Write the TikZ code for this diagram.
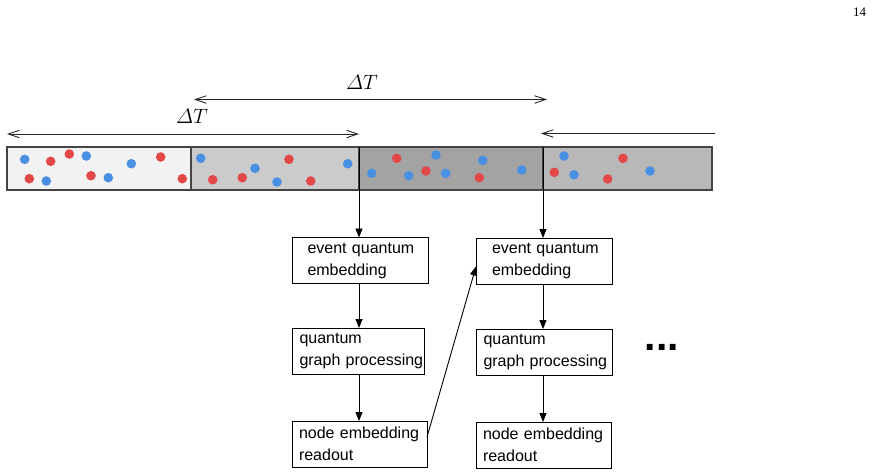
\documentclass[tikz,border=0pt]{standalone}
\usepackage{amsmath}
\usepackage{fontspec}
\setmainfont{Liberation Sans}
\newfontfamily\serifnum{Liberation Serif}
\usetikzlibrary{arrows.meta}
\definecolor{segA}{HTML}{F2F2F2}
\definecolor{segB}{HTML}{CBCBCB}
\definecolor{segC}{HTML}{A3A3A3}
\definecolor{segD}{HTML}{B8B8B8}
\definecolor{dotred}{HTML}{E24848}
\definecolor{dotblue}{HTML}{4A90E2}
\definecolor{barline}{HTML}{444444}
\hbadness=10000 \hfuzz=100pt
\begin{document}
\begin{tikzpicture}[x=1pt,y=-1pt,
  seg/.style={draw=barline,line width=1.1pt,anchor=north west,minimum height=43pt,inner sep=0pt,outer sep=0pt},
  procbox/.style={draw,line width=0.9pt,anchor=north west,minimum height=46pt,outer sep=0pt,inner ysep=0pt,align=left,
    font=\fontsize{16pt}{22pt}\selectfont},
  flow/.style={line width=0.9pt,-{Triangle[length=9pt,width=7pt]}},
  span/.style={line width=0.9pt,draw=black!85,{Straight Barb[length=11pt,width=7.5pt]}-{Straight Barb[length=11pt,width=7.5pt]}},
  spanl/.style={line width=0.9pt,draw=black!85,{Straight Barb[length=11pt,width=7.5pt]}-},
  rdot/.style={fill=dotred,draw=none},
  bdot/.style={fill=dotblue,draw=none},
  dlabel/.style={font=\fontsize{21pt}{24pt}\selectfont}
]
\useasboundingbox (0,0) rectangle (875,475);

% page number
\node[font=\serifnum\fontsize{13pt}{15pt}\selectfont] (pg) at (859.7,12) {14};

% bar segments
\node[seg,fill=segA,minimum width=184pt] (s1) at (7,147) {};
\node[seg,fill=segB,minimum width=168pt] (s2) at (191,147) {};
\node[seg,fill=segC,minimum width=184pt] (s3) at (359,147) {};
\node[seg,fill=segD,minimum width=169pt] (s4) at (543,147) {};
\draw[line width=1pt,black] (s3.north west) -- (s3.south west);
\draw[line width=1pt,black] (s4.north west) -- (s4.south west);

% dots
\foreach \x/\y in {24.7/159.3,86.3/156,131.3/163.7,46.3/181,108.3/177.7,
  200.7/158.3,255/168.3,347.7/163.7,277/182,
  371.7/173.3,408.7/175.7,436/155,445.7/173.3,482.7/160.3,521.7/170,
  564/156,574/174.7,650/171}
  \fill[bdot] (\x,\y) circle (4.8);
\foreach \x/\y in {50.7/161.3,69.3/154,160.7/157,29.3/178.7,91/175.7,182.3/178.7,
  289/159.3,212.7/179.7,242.3/177.7,310.7/181,
  396.7/158.3,426/171,479.3/177.7,
  554.3/172.3,623/158.3,607.7/179}
  \fill[rdot] (\x,\y) circle (4.8);

% Delta T spans
\coordinate (a1l) at (7,134);
\coordinate (a1r) at (359,134);
\coordinate (a2l) at (194,99.5);
\coordinate (a2r) at (547,99.5);
\coordinate (a3l) at (541,133.5);
\coordinate (a3r) at (715,133.5);
\draw[span] (a1l) -- (a1r);
\draw[span] (a2l) -- (a2r);
\draw[spanl] (a3l) -- (a3r);
\node[dlabel] (dt1) at (192,116) {$\varDelta T$};
\node[dlabel] (dt2) at (362,82) {$\varDelta T$};

% column 1
\node[procbox,inner xsep=15.5pt,text width=105pt] (c1b1) at (292,237.5) {\mbox{event quantum}\\embedding};
\node[procbox,inner xsep=7.5pt,text width=117pt] (c1b2) at (292,328) {quantum\\\mbox{graph processing}};
\node[procbox,inner xsep=7pt,text width=121pt] (c1b3) at (292,421) {\mbox{node embedding}\\readout};

% column 2
\node[procbox,inner xsep=16pt,text width=104.5pt] (c2b1) at (476,238) {\mbox{event quantum}\\embedding};
\node[procbox,inner xsep=7.5pt,text width=121pt] (c2b2) at (476,329) {quantum\\\mbox{graph processing}};
\node[procbox,inner xsep=7pt,text width=121pt] (c2b3) at (476,422) {\mbox{node embedding}\\readout};

% flows
\draw[flow] (s3.south west) -- (c1b1.north -| s3.south west);
\draw[flow] (c1b1.south -| s3.south west) -- (c1b2.north -| s3.south west);
\draw[flow] (c1b2.south -| s3.south west) -- (c1b3.north -| s3.south west);
\draw[flow] (s4.south west) -- (c2b1.north -| s4.south west);
\draw[flow] (c2b1.south -| s4.south west) -- (c2b2.north -| s4.south west);
\draw[flow] (c2b2.south -| s4.south west) -- (c2b3.north -| s4.south west);
\draw[flow] ([yshift=7pt]c1b3.east) -- ([yshift=-5.5pt]c2b1.west);

% ellipsis
\node[font=\bfseries\fontsize{41pt}{41pt}\selectfont,anchor=base,inner sep=0pt] (dots) at (662,350) {...};
\end{tikzpicture}
\end{document}
